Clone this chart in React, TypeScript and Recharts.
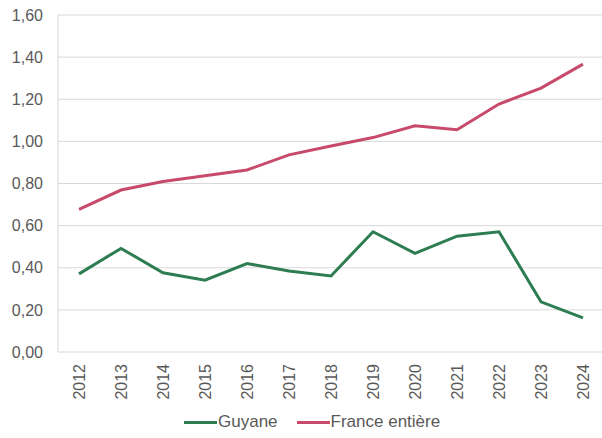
import { LineChart, Line, XAxis, YAxis, CartesianGrid, Legend } from "recharts";

const years = ["2012", "2013", "2014", "2015", "2016", "2017", "2018", "2019", "2020", "2021", "2022", "2023", "2024"];
const guyane = [0.371, 0.492, 0.376, 0.341, 0.42, 0.385, 0.361, 0.571, 0.468, 0.55, 0.571, 0.238, 0.162];
const france = [0.677, 0.769, 0.809, 0.837, 0.864, 0.936, 0.978, 1.018, 1.074, 1.055, 1.177, 1.253, 1.367];
const yTicks = [0, 0.2, 0.4, 0.6, 0.8, 1.0, 1.2, 1.4, 1.6];

const GREEN = "#2E7D52";
const RED = "#C84A6B";
const FONT = "'Liberation Sans', Arial, sans-serif";

const data = years.map((y, i) => ({ year: y, guyane: guyane[i], france: france[i] }));

const fmt = (v: number) => v.toFixed(2).replace(".", ",");

function YearTick(props: any) {
  const { x, y, payload } = props;
  const ty = y + 4;
  return (
    <text
      x={x}
      y={ty}
      dy="0.36em"
      transform={`rotate(-90, ${x}, ${ty})`}
      textAnchor="end"
      fill="#595959"
      fontSize={16}
      fontFamily={FONT}
    >
      {payload.value}
    </text>
  );
}

function LegendBox() {
  const items = [
    { label: "Guyane", color: GREEN },
    { label: "France entière", color: RED },
  ];
  return (
    <div style={{ display: "flex", marginLeft: 184, fontFamily: FONT, fontSize: 17, color: "#595959" }}>
      {items.map((it, i) => (
        <div key={it.label} style={{ display: "flex", alignItems: "center", marginRight: i === 0 ? 19 : 0 }}>
          <span style={{ display: "inline-block", width: 33, height: 3, background: it.color, marginRight: 1 }} />
          <span>{it.label}</span>
        </div>
      ))}
    </div>
  );
}

export default function App() {
  return (
    <div style={{ position: "fixed", left: 0, top: 0, background: "#fff" }}>
      <LineChart width={602} height={438} data={data} margin={{ top: 15, right: 0, left: 0, bottom: 4 }}>
        <CartesianGrid stroke="#d9d9d9" vertical={false} />
        <XAxis
          dataKey="year"
          height={60}
          axisLine={false}
          tickLine={false}
          interval={0}
          padding={{ left: 21, right: 19 }}
          tick={<YearTick />}
        />
        <YAxis
          width={58}
          domain={[0, 1.6]}
          ticks={yTicks}
          tickFormatter={fmt}
          axisLine={{ stroke: "#d9d9d9" }}
          tickLine={false}
          tickMargin={9}
          tick={{ fill: "#595959", fontSize: 16, fontFamily: FONT }}
        />
        <Legend verticalAlign="bottom" height={22} wrapperStyle={{ left: 0, width: 602 }} content={() => <LegendBox />} />
        <Line
          type="linear"
          dataKey="guyane"
          stroke={GREEN}
          strokeWidth={3}
          dot={false}
          isAnimationActive={false}
        />
        <Line
          type="linear"
          dataKey="france"
          stroke={RED}
          strokeWidth={3}
          dot={false}
          isAnimationActive={false}
        />
      </LineChart>
    </div>
  );
}
